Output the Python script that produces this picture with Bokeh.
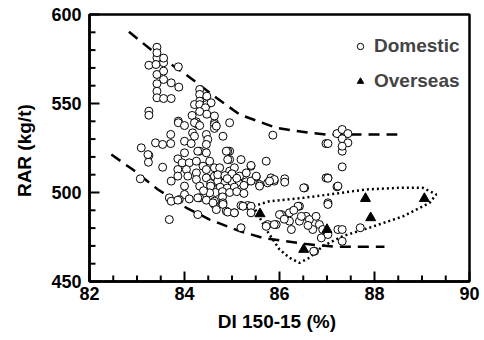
import numpy as np
from bokeh.plotting import figure
from bokeh.models import Range1d, SingleIntervalTicker
from bokeh.embed import file_html
from bokeh.resources import INLINE

# ---------------- data ----------------
dom_x = [
    83.42, 83.42, 83.25, 83.40, 83.56, 83.87, 83.42, 83.56, 83.56, 83.42,
    83.72, 83.88, 83.42, 83.42, 83.56, 83.72, 83.25, 83.25, 83.42, 83.56,
    84.32, 84.32, 84.47, 84.32, 84.21, 84.32, 84.47, 84.56, 84.44, 84.16,
    83.87, 84.25, 84.63, 84.63, 84.95, 84.28, 84.63, 84.32, 84.47, 84.63,
    83.09, 83.39, 83.54, 83.71, 83.71, 83.87, 84.00, 84.21, 84.32, 84.17,
    84.21, 84.46, 84.49, 84.46, 84.67, 84.00, 84.14, 84.81, 85.86, 86.98,
    83.25, 83.24, 83.07, 83.54, 83.86, 84.00, 83.95, 84.10, 84.32, 84.46,
    84.25, 84.39, 84.53, 83.86, 83.86, 84.04, 84.07, 84.25, 84.25, 84.46,
    84.46, 84.63, 84.63, 83.72, 84.95, 84.95, 85.19, 85.40, 85.72, 84.74,
    84.95, 85.05, 85.16, 85.51, 85.82, 86.11, 86.98, 84.91, 84.91, 84.28,
    84.55, 84.70, 84.85, 85.00, 85.15, 85.30, 84.60, 84.75, 84.90, 85.05,
    85.20, 84.65, 84.80, 84.95, 85.10, 85.25, 84.70, 84.85, 85.00, 85.30,
    84.55, 84.32, 84.53, 84.00, 84.00, 84.90, 85.10, 85.25, 84.40, 84.80,
    83.68, 83.72, 83.89, 84.10, 84.32, 84.46, 84.63, 84.28, 84.63, 84.81,
    85.19, 85.33, 84.60, 84.81, 84.67, 84.88, 85.05, 85.23, 85.40, 85.40,
    85.19, 85.40, 85.58, 85.75, 85.89, 86.11, 86.53, 87.02, 87.02, 85.89,
    86.04, 86.21, 86.42, 86.56, 86.21, 85.75, 85.93, 86.25, 86.42, 86.63,
    86.77, 86.84, 86.70, 86.91, 86.74, 86.00, 86.46, 86.39, 85.89, 86.88,
    87.02, 87.23, 87.32, 87.32, 87.70, 86.72, 87.02, 86.30, 86.60, 86.10,
    87.21, 87.32, 87.44, 87.32, 87.44, 87.32, 87.32, 87.02, 87.21, 86.51,
    87.23, 87.02, 87.32, 83.68, 84.28, 85.72, 83.23, 83.86, 85.51, 85.58,
    85.79, 84.88, 85.40, 84.91, 85.05,
]
dom_y = [
    581.6, 575.7, 571.5, 571.9, 572.9, 570.6, 566.3, 568.2, 563.5, 561.1,
    561.6, 559.2, 556.9, 553.2, 552.8, 552.8, 545.7, 543.4, 578.5, 575.5,
    557.9, 555.1, 554.1, 551.3, 549.4, 549.4, 549.4, 550.4, 547.6, 543.3,
    540.1, 539.7, 539.2, 538.2, 539.2, 538.2, 536.0, 545.5, 544.0, 543.0,
    525.1, 527.9, 527.0, 527.5, 532.6, 539.2, 537.6, 539.2, 537.6, 533.5,
    531.6, 532.6, 529.8, 527.0, 537.3, 528.8, 527.5, 531.6, 532.2, 527.5,
    520.8, 517.0, 507.7, 514.2, 518.9, 522.3, 516.7, 516.7, 523.2, 522.3,
    517.6, 514.8, 517.6, 512.9, 509.2, 512.9, 509.2, 511.0, 507.3, 512.9,
    508.2, 513.9, 509.2, 506.4, 523.2, 518.5, 518.5, 514.8, 517.6, 513.9,
    512.0, 513.9, 509.2, 508.8, 508.2, 507.7, 508.2, 523.2, 518.5, 523.2,
    505.0, 506.5, 505.5, 506.0, 505.0, 506.0, 502.0, 503.0, 502.5, 503.0,
    502.0, 500.0, 500.5, 500.0, 500.5, 499.5, 510.0, 509.5, 510.5, 511.0,
    503.6, 503.6, 499.8, 503.6, 498.9, 507.8, 508.0, 504.0, 501.0, 497.5,
    497.0, 495.1, 496.0, 496.4, 497.0, 495.7, 493.3, 497.0, 495.1, 494.2,
    492.7, 492.7, 494.2, 493.3, 490.4, 489.5, 488.6, 492.3, 492.3, 488.6,
    480.2, 506.4, 504.5, 505.4, 506.4, 505.8, 502.6, 508.2, 494.2, 507.3,
    487.6, 488.6, 492.3, 486.6, 483.9, 482.0, 482.0, 479.2, 483.9, 484.8,
    486.6, 482.0, 479.2, 479.2, 467.0, 487.6, 486.6, 492.3, 482.0, 474.5,
    476.4, 479.2, 479.2, 472.6, 480.2, 467.0, 493.3, 490.0, 481.5, 485.0,
    533.1, 535.4, 533.1, 530.2, 527.9, 523.2, 514.4, 527.5, 503.2, 502.6,
    503.6, 508.0, 526.0, 484.8, 487.6, 481.0, 521.3, 495.7, 509.2, 503.6,
    506.4, 523.2, 515.2, 489.0, 488.6,
]

ovs_x = [85.59, 86.51, 87.00, 87.92, 87.81, 89.05]
ovs_y = [488.0, 468.0, 479.2, 485.8, 496.6, 496.6]

upper_x = [82.83, 83.42, 84.03, 84.67, 85.16, 85.93, 86.63, 86.98, 88.48]
upper_y = [590.3, 577.5, 566.3, 553.2, 543.8, 536.3, 533.5, 532.6, 532.6]

lower_x = [82.46, 82.91, 83.44, 84.04, 84.53, 85.16, 85.65, 86.14, 86.56, 87.19, 88.21]
lower_y = [521.3, 512.9, 501.7, 491.4, 484.8, 478.3, 474.5, 472.6, 471.0, 469.5, 469.5]

loop_x = [85.45, 85.79, 86.50, 87.05, 87.82, 88.50, 89.02, 89.30, 89.16, 88.60,
          87.89, 87.33, 86.91, 86.63, 86.42, 86.21, 86.00, 85.72, 85.45]
loop_y = [492.3, 495.1, 497.0, 498.9, 501.7, 502.6, 502.6, 498.9, 494.2, 486.6,
          480.2, 475.5, 469.8, 463.3, 460.5, 463.3, 468.0, 479.2, 492.3]

x_label = "DI 150-15  (%)"
y_label = "RAR  (kg/t)"
x_min, x_max, x_major, x_minor = 82, 90, 2, 0.5
y_min, y_max, y_major, y_minor = 450, 600, 50, 10

# ---------------- figure ----------------
FONT = "Liberation Sans"
W, H = 480, 336
BL, BR, BT, BB = 89, 11, 14, 55
p = figure(width=W, height=H, x_range=Range1d(x_min, x_max), y_range=Range1d(y_min, y_max),
           output_backend="svg", toolbar_location=None,
           min_border_left=BL, min_border_right=BR, min_border_top=BT, min_border_bottom=BB)

p.grid.visible = False
p.outline_line_color = "black"
p.outline_line_width = 2.5

p.xaxis.ticker = SingleIntervalTicker(interval=x_major, num_minor_ticks=0)
p.yaxis.ticker = SingleIntervalTicker(interval=y_major, num_minor_ticks=0)

for ax in (p.xaxis[0], p.yaxis[0]):
    ax.axis_line_width = 2.5
    ax.axis_line_color = "black"
    ax.major_tick_in = 0
    ax.major_tick_out = 0
    ax.minor_tick_in = 0
    ax.minor_tick_out = 0
    ax.major_label_text_font = FONT
    ax.major_label_text_font_style = "bold"
    ax.major_label_text_font_size = "18px"
    ax.major_label_text_color = "black"
    ax.axis_label_text_font = FONT
    ax.axis_label_text_font_style = "bold"
    ax.axis_label_text_font_size = "19px"
    ax.axis_label_text_color = "black"

p.xaxis.axis_label = x_label
p.yaxis.axis_label = y_label
p.xaxis.major_label_standoff = 5
p.xaxis.axis_label_standoff = 8
p.yaxis.major_label_standoff = 8
p.yaxis.axis_label_standoff = 13

p.line(upper_x, upper_y, line_color="black", line_width=2.5, line_dash="11 7")
p.line(lower_x, lower_y, line_color="black", line_width=2.5, line_dash="11 7")
p.line(loop_x, loop_y, line_color="black", line_width=2.5, line_dash="2 3")

p.scatter(dom_x, dom_y, marker="circle", size=8, fill_color="white",
          line_color="black", line_width=1, legend_label="Domestic")
p.scatter(ovs_x, ovs_y, marker="triangle", size=10, fill_color="black",
          line_color="black", legend_label="Overseas")

# inward tick marks (pixel lengths converted to data units), drawn on the top layer
fw = W - BL - BR
fh = H - BT - BB
px_x = (x_max - x_min) / fw
px_y = (y_max - y_min) / fh
xt = [float(v) for v in np.arange(x_min, x_max + 1e-9, x_minor)]
yt = [float(v) for v in np.arange(y_min, y_max + 1e-9, y_minor)]
xt_len = [10.0 if abs(v / x_major - round(v / x_major)) < 1e-6 else 6.0 for v in xt]
yt_len = [10.0 if abs(v / y_major - round(v / y_major)) < 1e-6 else 6.0 for v in yt]
p.segment(x0=xt, y0=[float(y_min)] * len(xt), x1=xt,
          y1=[y_min + L * px_y for L in xt_len], line_color="black", line_width=2,
          level="overlay")
p.segment(x0=[float(x_min)] * len(yt), y0=yt,
          x1=[x_min + L * px_x for L in yt_len], y1=yt, line_color="black", line_width=2,
          level="overlay")

lg = p.legend[0]
lg.location = (263, 184)
lg.border_line_color = None
lg.background_fill_alpha = 0
lg.label_text_font = FONT
lg.label_text_font_style = "bold"
lg.label_text_font_size = "19px"
lg.glyph_width = 16
lg.glyph_height = 16
lg.label_standoff = 6
lg.label_height = 32
lg.spacing = 3
lg.padding = 6
lg.margin = 0

open("out.html", "w").write(file_html(p, INLINE))
